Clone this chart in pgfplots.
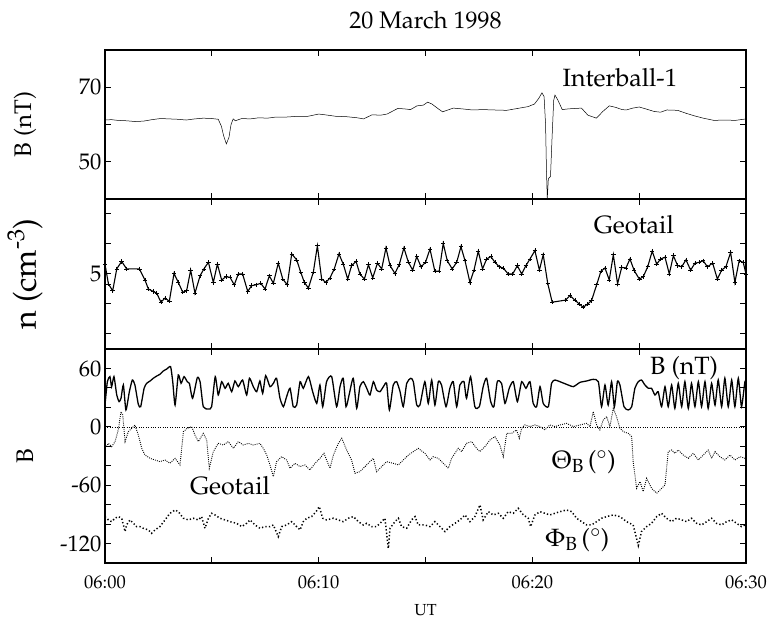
\documentclass[border=0pt]{standalone}
\usepackage[T1]{fontenc}
\usepackage{mathpazo}
\usepackage{pgfplots}
\pgfplotsset{compat=1.18}
\pgfplotsset{
  panel/.style={
    scale only axis, width=641pt,
    xmin=0, xmax=30, xtick={0,5,...,30},
    tick align=inside, xtick pos=both, ytick pos=both,
    major tick length=6pt,
    axis line style={line width=1.2pt},
    every tick/.style={line width=1pt, black},
    tick label style={font=\fontsize{22.5}{24}\selectfont},
    x tick label style={font=\fontsize{18.5}{20}\selectfont, yshift=-9pt},
    ylabel style={at={(axis description cs:-0.125,0.5)}, anchor=center, font=\fontsize{24}{26}\selectfont},
    clip=true,
  },
}
\begin{document}
\begin{tikzpicture}
\useasboundingbox (-105pt,-60pt) rectangle (664pt,563pt);
% ---------- top panel ----------
\begin{axis}[panel, at={(0pt,364pt)}, anchor=south west, height=149pt,
  ymin=40, ymax=80, ytick={50,60,70}, yticklabels={50,,70}, xticklabels={},
  ylabel={B (nT)},
  title={20 March 1998}, title style={font=\fontsize{24}{26}\selectfont, yshift=11pt}]
\addplot[black, line width=0.5pt] coordinates {
(0,61.2) (0.3,61.3) (0.6,61.1) (1.0,61.0) (1.4,60.8) (1.8,60.9) (2.2,61.3) (2.6,61.6)
(3.0,61.5) (3.4,61.4) (3.8,61.2) (4.2,61.5) (4.6,61.7) (5.0,61.6) (5.3,61.4) (5.45,59.5)
(5.55,57.0) (5.68,54.8) (5.8,56.5) (5.9,60.0) (6.0,61.5) (6.1,61.0) (6.4,61.6) (6.8,61.5)
(7.2,61.8) (7.6,61.7) (8.0,62.0) (8.5,62.0) (9.0,62.2) (9.5,62.2) (10.0,62.8) (10.3,62.6)
(10.8,62.2) (11.3,62.1) (11.8,61.8) (12.1,61.5) (12.5,62.6) (12.9,62.5) (13.2,62.8) (13.7,64.3)
(14.0,64.2) (14.3,64.0) (14.6,65.0) (14.9,65.2) (15.1,66.0) (15.3,65.5) (15.6,64.2) (15.8,63.4)
(16.0,63.8) (16.3,64.4) (16.7,64.2) (17.2,63.9) (17.7,64.0) (18.2,63.9) (18.8,63.8) (19.3,64.3)
(19.8,64.8) (20.1,65.5) (20.3,67.0) (20.45,68.5) (20.55,67.5) (20.62,60.0) (20.66,48.0) (20.7,40.0)
(20.75,45.5) (20.85,46.0) (20.92,56.0) (21.0,66.5) (21.06,67.9) (21.2,66.5) (21.4,64.0) (21.7,64.2)
(22.0,64.3) (22.3,64.4) (22.6,62.5) (23.0,61.7) (23.3,63.5) (23.6,65.0) (23.9,64.6) (24.2,64.0)
(24.4,63.9) (24.7,64.4) (25.0,64.7) (25.3,64.2) (25.7,63.5) (26.0,63.3) (26.3,63.9) (26.8,63.8)
(27.2,63.0) (27.6,62.3) (28.0,61.7) (28.5,61.1) (29.0,61.2) (29.5,61.1) (30.0,61.5)
};
\node[font=\fontsize{25}{27}\selectfont] at (axis cs:24.1,72.5) {Interball-1};
\end{axis}
% ---------- middle panel ----------
\begin{axis}[panel, at={(0pt,214pt)}, anchor=south west, height=150pt,
  ymin=2.5, ymax=7.5, ytick={3,4,5,6,7}, yticklabels={,,5,,}, xticklabels={},
  ylabel={n (cm\textsuperscript{-3})},
  ylabel style={font=\fontsize{32}{34}\selectfont}]
\addplot[black, line width=1.1pt, mark=+, mark size=2.2pt, mark options={line width=0.6pt}] coordinates {
(0.00,5.33) (0.16,4.67) (0.36,4.44) (0.55,5.17) (0.78,5.42) (1.01,5.17) (1.61,5.17) (1.87,4.80)
(2.03,4.50) (2.26,4.42) (2.42,4.36) (2.62,4.06) (2.81,4.20) (3.01,4.09) (3.23,5.02) (3.43,4.72)
(3.64,4.39) (3.82,4.44) (4.01,5.13) (4.21,4.36) (4.45,4.94) (4.63,5.17) (4.84,5.39) (5.07,4.72)
(5.26,5.33) (5.46,4.80) (5.66,4.91) (5.85,4.89) (6.05,4.64) (6.24,5.00) (6.44,5.00) (6.68,4.42)
(6.86,4.61) (7.07,4.64) (7.29,4.69) (7.49,4.50) (7.69,4.94) (7.88,4.69) (8.11,5.36) (8.32,4.83)
(8.53,4.64) (8.74,5.67) (8.97,5.47) (9.16,5.06) (9.33,4.72) (9.52,4.53) (9.75,5.06) (9.94,5.94)
(10.14,4.83) (10.34,4.72) (10.53,4.87) (10.73,5.17) (10.95,5.67) (11.15,5.33) (11.36,4.83) (11.54,5.28)
(11.75,5.42) (11.93,5.00) (12.14,4.83) (12.33,5.31) (12.53,4.87) (12.75,5.36) (12.95,5.17) (13.15,5.87)
(13.34,5.28) (13.57,5.02) (13.77,5.31) (13.99,5.87) (14.20,5.39) (14.40,5.13) (14.59,5.58) (14.79,5.24)
(15.00,5.39) (15.21,5.83) (15.44,5.09) (15.64,5.09) (15.83,6.02) (16.02,5.44) (16.25,5.17) (16.46,5.39)
(16.66,5.91) (16.85,5.44) (17.08,4.72) (17.27,5.13) (17.47,5.76) (17.67,5.17) (17.86,5.50) (18.06,5.58)
(18.25,5.39) (18.45,5.24) (18.64,5.20) (18.87,5.00) (19.08,5.00) (19.30,5.28) (19.50,5.00) (19.70,5.28)
(19.89,5.50) (20.12,5.78) (20.33,5.13) (20.51,5.64) (20.72,4.69) (20.93,4.06) (21.56,4.13) (21.76,4.28)
(21.99,4.13) (22.20,4.00) (22.38,3.89) (22.59,4.00) (22.77,4.11) (23.01,4.64) (23.21,5.09) (23.40,5.20)
(23.60,4.80) (23.79,5.64) (23.99,4.67) (24.18,5.22) (24.38,5.20) (24.57,5.50) (24.77,5.11) (25.01,4.83)
(25.19,4.91) (25.40,5.24) (25.61,5.76) (25.82,5.33) (26.00,5.50) (26.21,5.56) (26.41,5.00) (26.60,5.61)
(26.80,5.28) (26.99,5.24) (27.19,5.47) (27.41,5.13) (27.61,5.36) (27.81,5.39) (28.00,5.44) (28.19,5.24)
(28.44,5.36) (28.66,4.83) (28.86,5.13) (29.06,5.24) (29.28,5.72) (29.48,4.72) (29.68,5.44) (29.87,5.39)
(30.00,5.00)
};
\node[font=\fontsize{25}{27}\selectfont] at (axis cs:24.75,6.63) {Geotail};
\end{axis}
% ---------- bottom panel ----------
\begin{axis}[panel, at={(0pt,0pt)}, anchor=south west, height=214pt,
  ymin=-140, ymax=80, ytick={-120,-100,...,60}, yticklabels={-120,,,-60,,,0,,,60},
  xticklabels={06:00,,06:10,,06:20,,06:30},
  ylabel={B},
  xlabel={UT}, xlabel style={font=\fontsize{16}{18}\selectfont, yshift=-9pt}]
\addplot[black, line width=0.6pt, dash pattern=on 0.8pt off 1.6pt] coordinates {(0,0) (30,0)};
% B magnitude
\addplot[black, line width=1.3pt, smooth, tension=0.35] coordinates {
(0.00,22.4) (0.11,46.4) (0.23,51.6) (0.31,41.3) (0.42,51.6) (0.55,32.7) (0.66,25.9) (0.75,29.3)
(0.86,43.0) (0.98,17.3) (1.14,36.1) (1.28,48.1) (1.40,43.0) (1.56,23.1) (1.67,20.7) (1.83,39.6)
(1.95,44.7) (2.11,47.1) (2.26,49.9) (2.42,52.2) (2.57,54.0) (2.73,57.4) (2.89,59.4) (3.07,61.8)
(3.17,46.4) (3.28,22.4) (3.43,53.3) (3.56,44.7) (3.70,51.6) (3.85,46.4) (3.95,44.7) (4.10,29.3)
(4.32,50.5) (4.45,46.4) (4.60,20.7) (4.84,18.3) (4.99,20.7) (5.16,51.6) (5.30,32.7) (5.46,46.4)
(5.62,39.6) (5.77,44.7) (5.93,36.1) (6.08,47.1) (6.24,41.3) (6.44,48.1) (6.63,32.7) (6.76,49.9)
(6.94,41.3) (7.10,36.1) (7.25,47.1) (7.38,34.4) (7.52,52.6) (7.72,41.3) (7.88,44.7) (8.03,49.9)
(8.19,29.3) (8.35,20.7) (8.50,31.0) (8.66,39.6) (8.81,20.7) (8.97,22.4) (9.13,46.4) (9.28,39.6)
(9.52,51.6) (9.72,36.1) (9.91,24.1) (10.06,43.0) (10.19,20.7) (10.37,46.4) (10.61,51.6) (10.84,20.7)
(11.00,41.3) (11.15,49.9) (11.28,20.7) (11.44,34.4) (11.62,49.9) (11.78,19.0) (11.93,41.3) (12.09,46.4)
(12.25,39.6) (12.40,32.7) (12.56,46.4) (12.71,37.9) (12.87,36.1) (13.03,41.3) (13.18,44.7) (13.31,17.3)
(13.49,43.0) (13.65,46.4) (13.81,36.1) (13.96,20.7) (14.12,44.7) (14.31,49.9) (14.43,46.4) (14.59,22.4)
(14.74,22.4) (14.97,46.4) (15.13,24.1) (15.29,48.1) (15.44,22.4) (15.60,46.4) (15.75,43.0) (15.96,20.7)
(16.14,39.6) (16.30,46.4) (16.46,20.7) (16.61,43.0) (16.80,46.4) (16.92,29.3) (17.11,51.6) (17.31,20.7)
(17.52,20.7) (17.70,41.3) (17.86,49.9) (18.05,25.9) (18.20,20.7) (18.36,46.4) (18.56,44.7) (18.72,24.1)
(18.92,39.6) (19.11,46.4) (19.30,25.9) (19.50,46.4) (19.70,39.6) (19.89,46.4) (20.04,24.1) (20.20,20.7)
(20.36,41.3) (20.51,24.1) (20.75,20.7) (20.90,44.7) (21.06,48.1) (21.29,46.4) (21.60,43.7) (21.92,41.3)
(22.23,45.7) (22.54,47.1) (22.85,48.8) (23.09,46.4) (23.24,20.7) (23.40,43.0) (23.55,22.4) (23.71,46.4)
(23.84,20.7) (23.98,46.4) (24.10,43.0) (24.29,20.7) (24.49,17.3) (24.65,20.7) (24.80,39.6) (24.96,46.4)
(25.11,48.1) (25.27,43.0) (25.43,39.6) (25.58,39.6) (25.74,32.7) (25.89,36.1) (26.05,20.7) (26.21,41.3)
(26.36,20.7) (26.52,43.0) (26.67,19.0) (26.83,44.7) (26.99,20.7) (27.14,46.4) (27.30,19.0) (27.45,44.7)
(27.61,20.7) (27.77,46.4) (27.92,20.7) (28.08,46.4) (28.23,19.0) (28.39,44.7) (28.55,22.4) (28.70,48.1)
(28.86,20.7) (29.01,49.9) (29.17,20.7) (29.33,48.1) (29.48,20.7) (29.64,49.9) (29.79,20.7) (29.95,46.4)
(30.00,40.0)
};
% Theta_B
\addplot[black, line width=0.9pt, dash pattern=on 0.9pt off 1.2pt] coordinates {
(0.00,-22.1) (0.16,-17.0) (0.31,-20.4) (0.47,-15.2) (0.62,-3.2) (0.75,15.6) (0.83,12.2) (0.94,-15.2)
(1.09,-5.0) (1.25,-1.5) (1.40,1.9) (1.56,-8.4) (1.72,-22.1) (1.87,-29.0) (2.11,-32.4) (2.34,-34.1)
(2.57,-35.8) (2.81,-34.1) (3.04,-37.5) (3.28,-32.4) (3.51,-39.2) (3.67,-5.0) (3.85,-1.5) (4.06,0.2)
(4.21,-8.4) (4.37,-15.2) (4.60,-6.7) (4.76,-13.5) (4.88,-42.6) (5.07,-25.5) (5.30,-17.0) (5.54,-18.7)
(5.77,-15.2) (6.01,-22.1) (6.24,-15.2) (6.47,-18.7) (6.71,-17.0) (6.94,-18.7) (7.25,-17.0) (7.41,-22.1)
(7.57,-29.0) (7.72,-39.2) (7.88,-51.2) (8.03,-35.8) (8.27,-30.7) (8.50,-34.1) (8.66,-42.6) (8.89,-37.5)
(9.13,-40.9) (9.36,-39.2) (9.59,-44.4) (9.83,-37.5) (10.06,-32.4) (10.25,-27.2) (10.37,-34.1) (10.53,-42.6)
(10.69,-29.0) (10.92,-17.0) (11.08,-11.8) (11.31,-23.8) (11.54,-34.1) (11.70,-47.8) (11.93,-46.1) (12.17,-40.9)
(12.40,-35.8) (12.56,-32.4) (12.71,-46.1) (12.95,-40.9) (13.18,-35.8) (13.49,-37.5) (13.73,-39.2) (13.96,-34.1)
(14.20,-29.0) (14.43,-25.5) (14.66,-22.1) (14.97,-27.2) (15.21,-34.1) (15.36,-30.7) (15.60,-32.4) (15.83,-37.5)
(16.07,-42.6) (16.22,-32.4) (16.38,-27.2) (16.53,-22.1) (16.69,-25.5) (16.92,-17.0) (17.16,-15.2) (17.39,-22.1)
(17.55,-25.5) (17.78,-20.4) (18.02,-13.5) (18.25,-10.1) (18.48,-18.7) (18.64,-30.7) (18.80,-6.7) (19.03,-6.7)
(19.26,-3.2) (19.39,-11.8) (19.50,-1.5) (19.65,1.9) (19.89,0.2) (20.12,1.9) (20.36,0.2) (20.59,-3.2)
(20.82,1.9) (21.06,0.2) (21.29,1.9) (21.60,3.6) (21.92,0.2) (22.23,1.9) (22.54,3.6) (22.70,0.2)
(22.85,15.6) (23.01,1.9) (23.16,-3.2) (23.32,7.0) (23.48,10.5) (23.63,0.2) (23.79,19.0) (23.94,10.5)
(24.10,-1.5) (24.26,-5.0) (24.49,-6.7) (24.65,-10.1) (24.72,-35.8) (24.88,-63.2) (25.04,-56.3) (25.19,-66.6)
(25.35,-52.9) (25.58,-63.2) (25.82,-68.3) (26.05,-63.2) (26.21,-59.8) (26.36,-25.5) (26.52,-23.8) (26.67,-27.2)
(26.83,-23.8) (27.06,-29.0) (27.30,-32.4) (27.53,-27.2) (27.77,-34.1) (28.00,-29.0) (28.23,-23.8) (28.39,-32.4)
(28.55,-25.5) (28.78,-30.7) (29.01,-34.1) (29.25,-29.0) (29.48,-34.1) (29.72,-30.7) (29.95,-32.4)
};
% Phi_B
\addplot[black, line width=1.5pt, dash pattern=on 1.3pt off 2.2pt] coordinates {
(0.00,-92.3) (0.16,-95.7) (0.31,-97.5) (0.47,-94.0) (0.62,-92.3) (0.78,-94.0) (0.94,-107.7) (1.01,-100.9)
(1.17,-95.7) (1.33,-99.2) (1.48,-102.6) (1.64,-102.6) (1.79,-104.3) (2.03,-106.0) (2.18,-109.5) (2.34,-106.0)
(2.57,-102.6) (2.81,-95.7) (3.04,-88.9) (3.28,-85.5) (3.43,-87.2) (3.67,-94.0) (3.90,-95.7) (4.13,-94.0)
(4.37,-95.7) (4.52,-92.3) (4.68,-104.3) (4.84,-94.0) (4.99,-88.9) (5.15,-90.6) (5.38,-94.0) (5.62,-95.7)
(5.85,-97.5) (6.16,-99.2) (6.40,-102.6) (6.63,-99.2) (6.79,-95.7) (7.02,-100.9) (7.25,-104.3) (7.49,-102.6)
(7.72,-102.6) (7.88,-100.9) (8.11,-112.9) (8.27,-102.6) (8.50,-100.9) (8.74,-97.5) (8.97,-102.6) (9.13,-106.0)
(9.28,-97.5) (9.44,-94.0) (9.67,-92.3) (9.88,-87.2) (10.03,-82.0) (10.19,-94.0) (10.37,-95.7) (10.69,-94.0)
(10.92,-95.7) (11.15,-97.5) (11.39,-94.0) (11.62,-92.3) (11.86,-97.5) (12.09,-100.9) (12.25,-99.2) (12.48,-102.6)
(12.71,-102.6) (12.95,-97.5) (13.10,-94.0) (13.26,-125.0) (13.34,-104.3) (13.57,-97.5) (13.73,-94.0) (13.88,-102.6)
(14.12,-104.3) (14.35,-95.7) (14.51,-92.3) (14.66,-100.9) (14.97,-100.9) (15.21,-102.6) (15.44,-97.5) (15.68,-102.6)
(15.91,-107.7) (16.14,-102.6) (16.38,-99.2) (16.61,-95.7) (16.85,-90.6) (17.08,-97.5) (17.31,-92.3) (17.55,-80.3)
(17.70,-95.7) (17.94,-87.2) (18.17,-90.6) (18.41,-88.9) (18.64,-94.0) (18.87,-87.2) (19.11,-88.9) (19.34,-83.8)
(19.58,-90.6) (19.81,-94.0) (19.92,-102.6) (20.12,-90.6) (20.36,-87.2) (20.59,-88.9) (20.82,-90.6) (21.06,-88.9)
(21.29,-87.2) (21.60,-85.5) (21.84,-87.2) (22.07,-94.0) (22.31,-97.5) (22.54,-100.9) (22.77,-100.9) (23.01,-97.5)
(23.24,-94.0) (23.48,-92.3) (23.79,-90.6) (24.10,-92.3) (24.41,-97.5) (24.72,-100.9) (24.96,-122.0) (25.11,-107.7)
(25.35,-102.6) (25.58,-99.2) (25.82,-92.3) (26.05,-88.9) (26.28,-94.0) (26.52,-97.5) (26.75,-94.0) (26.99,-95.7)
(27.22,-97.5) (27.45,-94.0) (27.69,-99.2) (27.92,-100.9) (28.16,-97.5) (28.39,-94.0) (28.62,-99.2) (28.86,-100.9)
(29.09,-97.5) (29.33,-95.7) (29.56,-99.2) (29.79,-102.6) (29.95,-100.9)
};
\node[font=\fontsize{25}{27}\selectfont] at (axis cs:27.1,60.5) {B (nT)};
\node[font=\fontsize{25}{27}\selectfont] at (axis cs:22.4,-36) {$\Theta_{\mathrm{B}}$\,($^\circ$)};
\node[font=\fontsize{25}{27}\selectfont] at (axis cs:5.85,-61) {Geotail};
\node[font=\fontsize{25}{27}\selectfont] at (axis cs:22.1,-116) {$\Phi_{\mathrm{B}}$\,($^\circ$)};
\end{axis}
\end{tikzpicture}
\end{document}
